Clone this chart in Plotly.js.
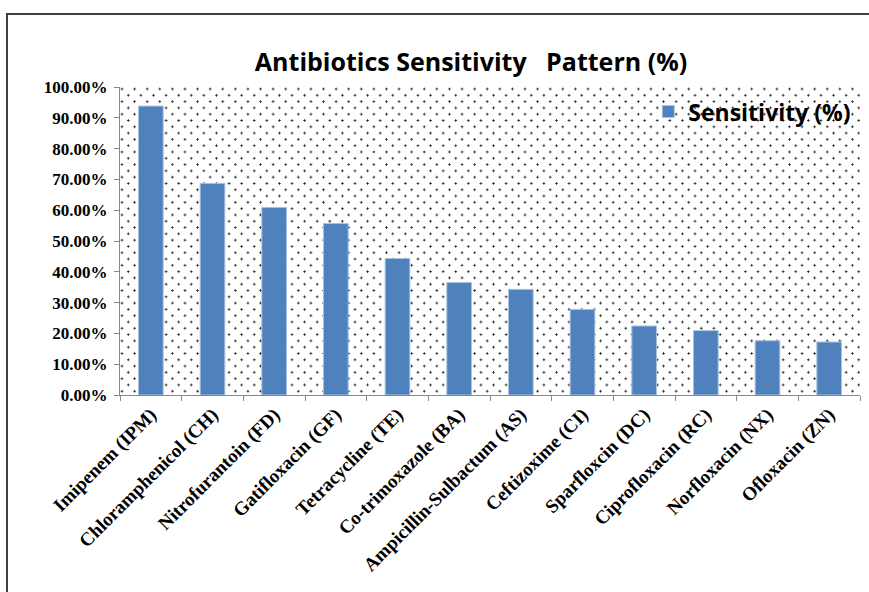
<!DOCTYPE html>
<html>
<head>
<meta charset="utf-8">
<script src="https://cdn.plot.ly/plotly-3.0.1.min.js"></script>
<style>
  html, body { margin: 0; padding: 0; background: #ffffff; }
  #wrap { position: relative; width: 869px; height: 592px; overflow: hidden; }
  #dots {
    position: absolute; left: 120px; top: 87px; width: 740px; height: 308px;
    background-image:
      radial-gradient(circle, #222 0.9px, transparent 1.2px),
      radial-gradient(circle, #222 0.9px, transparent 1.2px);
    background-size: 12.6px 12.6px, 12.6px 12.6px;
    background-position: 2px 2px, 8.3px 8.3px;
  }
  #frame {
    position: absolute; left: 6px; top: 13px; width: 900px; height: 620px;
    border-left: 2px solid #404040; border-top: 2px solid #404040;
    pointer-events: none;
  }
  #chart { position: absolute; left: 0; top: 0; }
</style>
</head>
<body>
<div id="wrap">
  <div id="dots"></div>
  <div id="chart"></div>
  <div id="frame"></div>
</div>
<script>
const categories = [
  "Imipenem (IPM)", "Chloramphenicol (CH)", "Nitrofurantoin (FD)", "Gatifloxacin (GF)",
  "Tetracycline (TE)", "Co-trimoxazole (BA)", "Ampicillin-Sulbactum (AS)", "Ceftizoxime (CI)",
  "Sparfloxcin (DC)", "Ciprofloxacin (RC)", "Norfloxacin (NX)", "Ofloxacin (ZN)"
];
const sensitivity = [93.8, 68.7, 60.9, 55.7, 44.3, 36.5, 34.3, 27.8, 22.4, 20.9, 17.6, 17.2];
const yTickValues = [0, 10, 20, 30, 40, 50, 60, 70, 80, 90, 100];
const yTickLabels = ["0.00%", "10.00%", "20.00%", "30.00%", "40.00%", "50.00%", "60.00%", "70.00%", "80.00%", "90.00%", "100.00%"];

const trace = {
  type: "bar",
  x: categories,
  y: sensitivity,
  name: "Sensitivity (%)",
  marker: { color: "#4F81BD", line: { color: "#A9C1E0", width: 1 } },
  hoverinfo: "x+y"
};

const layout = {
  width: 869, height: 592,
  margin: { l: 120, r: 9, t: 87, b: 197 },
  paper_bgcolor: "rgba(0,0,0,0)",
  plot_bgcolor: "rgba(0,0,0,0)",
  bargap: 0.6,
  title: {
    text: "<b>Antibiotics Sensitivity   Pattern (%)</b>",
    font: { family: "'Open Sans', sans-serif", size: 25, color: "#000" },
    x: 471 / 869, xanchor: "center", xref: "container",
    y: 1 - 62 / 592, yanchor: "middle", yref: "container"
  },
  showlegend: true,
  legend: {
    x: 0.995, xanchor: "right", y: 0.99, yanchor: "top",
    bgcolor: "rgba(0,0,0,0)",
    font: { family: "'Open Sans', sans-serif", size: 23, color: "#000", weight: "bold" },
    itemwidth: 30
  },
  xaxis: {
    type: "category",
    tickangle: -45,
    tickfont: { family: "'Liberation Serif', 'Times New Roman', serif", size: 19, color: "#000", weight: "bold" },
    showline: true, linecolor: "#888", linewidth: 1,
    ticks: "outside", ticklen: 5, tickcolor: "#888", tickson: "boundaries",
    showgrid: false, zeroline: false,
    fixedrange: true
  },
  yaxis: {
    range: [0, 100],
    tickvals: yTickValues,
    ticktext: yTickLabels,
    tickfont: { family: "'Liberation Serif', 'Times New Roman', serif", size: 17, color: "#000", weight: "bold" },
    ticklabelstandoff: 3,
    showline: true, linecolor: "#888", linewidth: 1,
    ticks: "outside", ticklen: 5, tickcolor: "#888",
    showgrid: false, zeroline: false,
    fixedrange: true
  }
};

Plotly.newPlot("chart", [trace], layout, { displayModeBar: false, staticPlot: true });
</script>
</body>
</html>
